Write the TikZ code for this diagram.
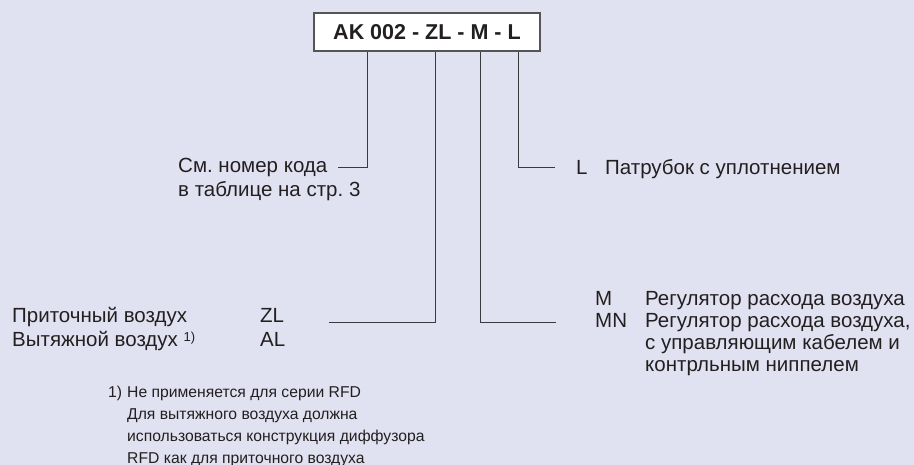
\documentclass[tikz,border=0pt]{standalone}
\usepackage{fontspec}
\setmainfont{Liberation Sans}
\frenchspacing
\definecolor{bgc}{HTML}{E1E2F1}
\definecolor{txt}{HTML}{231F20}
\definecolor{ln}{HTML}{3A3A3C}
\definecolor{boxln}{HTML}{555558}
\tikzset{
  lbl/.style={anchor=base west, inner sep=0pt, text=txt, font=\fontsize{20.5}{24}\selectfont},
  fn/.style={anchor=base west, inner sep=0pt, text=txt, font=\fontsize{15.7}{22}\selectfont},
  conn/.style={draw=ln, line width=1pt},
  codebox/.style={draw=boxln, fill=white, line width=1.1pt, minimum width=226pt, minimum height=38pt, inner sep=0pt, text=txt, font=\fontsize{21.5}{24}\bfseries\selectfont}
}
\begin{document}
\begin{tikzpicture}[x=1pt,y=-1pt]
\fill[bgc] (0,0) rectangle (914,465);
\useasboundingbox (0,0) rectangle (914,465);
\node[codebox] (box) at (427,32) {AK 002 - ZL - M - L};
% texts
\node[lbl] (cm1) at (178,173) {См. номер кода};
\node[lbl] (cm2) at (178,197) {в таблице на стр. 3};
\node[lbl] (lL) at (576,175) {L};
\node[lbl] (lLt) at (605,175) {Патрубок с уплотнением};
\node[lbl] (pr) at (12,323) {Приточный воздух};
\node[lbl] (vy) at (12,347) {Вытяжной воздух \raisebox{5pt}{\fontsize{13}{13}\selectfont 1)}};
\node[lbl] (zl) at (260,323) {ZL};
\node[lbl] (al) at (260,347) {AL};
\node[lbl] (mm) at (595,306) {M};
\node[lbl] (mmt) at (645,306) {Регулятор расхода воздуха};
\node[lbl] (mn) at (595,328) {MN};
\node[lbl] (mnt1) at (645,328) {Регулятор расхода воздуха,};
\node[lbl] (mnt2) at (645,350) {с управляющим кабелем и};
\node[lbl] (mnt3) at (645,372) {контрльным ниппелем};
\node[fn] (f0) at (108,397) {1)};
\node[fn] (f1) at (127,397) {Не применяется для серии RFD};
\node[fn] (f2) at (127,419) {Для вытяжного воздуха должна};
\node[fn] (f3) at (127,441) {использоваться конструкция диффузора};
\node[fn] (f4) at (127,463) {RFD как для приточного воздуха};
% connector geometry
\coordinate (k1) at (367,0);
\coordinate (k2) at (435,0);
\coordinate (k3) at (480,0);
\coordinate (k4) at (518,0);
\coordinate (e1) at (338,168);
\coordinate (e4) at (555,168);
\coordinate (e2) at (329,323);
\coordinate (e3) at (556,323);
\draw[conn] (box.south -| k1) |- (e1);
\draw[conn] (box.south -| k4) |- (e4);
\draw[conn] (box.south -| k2) |- (e2);
\draw[conn] (box.south -| k3) |- (e3);
\end{tikzpicture}
\end{document}
